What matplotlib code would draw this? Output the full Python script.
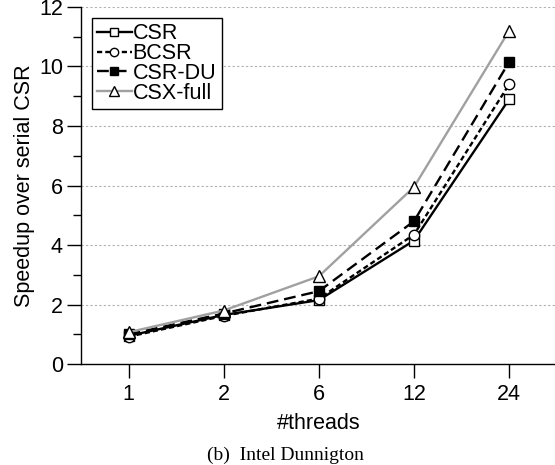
import matplotlib
matplotlib.use("Agg")
import matplotlib.pyplot as plt
import numpy as np

plt.rcParams['font.family'] = ['Liberation Sans', 'DejaVu Sans']

# thread counts (categorical x axis) and speedups
threads = ['1', '2', '6', '12', '24']
csr = [0.95, 1.65, 2.15, 4.15, 8.9]
bcsr = [0.92, 1.62, 2.2, 4.35, 9.4]
csr_du = [1.0, 1.7, 2.45, 4.8, 10.15]
csx_full = [1.07, 1.8, 2.95, 5.95, 11.2]

fig = plt.figure(figsize=(5.55, 4.65), dpi=100)
ax = fig.add_axes([0.146, 0.217, 0.857, 0.768])

x = np.arange(len(threads))
ms = 7.5
lw = 1.7
ax.plot(x, csr, color='black', lw=lw, ls='-', marker='s', ms=ms,
        mfc='white', mec='black', mew=1.0, label='CSR', zorder=3)
ax.plot(x, bcsr, color='black', lw=lw, ls=(0, (2.2, 1.3)), marker='o', ms=ms,
        mfc='white', mec='black', mew=1.0, label='BCSR', zorder=4)
ax.plot(x, csr_du, color='black', lw=lw, ls=(0, (5, 2.5)), marker='s', ms=ms,
        mfc='black', mec='black', mew=1.0, label='CSR-DU', zorder=5)
ax.plot(x, csx_full, color='#a0a0a0', lw=lw, ls='-', marker='^', ms=ms + 1,
        mfc='white', mec='black', mew=1.0, label='CSX-full', zorder=6)

ax.set_xlim(-0.5, 4.5)
ax.set_ylim(0, 12)
ax.set_xticks(x)
ax.set_xticklabels(threads)
ax.set_yticks(np.arange(0, 13, 2))
ax.set_yticks(np.arange(1, 12, 2), minor=True)

ax.tick_params(axis='both', which='major', direction='out', length=10,
               width=1, labelsize=15.5, pad=3)
ax.tick_params(axis='y', which='minor', direction='out', length=6, width=1)
ax.tick_params(axis='x', which='major', pad=4)

for s in ['top', 'right']:
    ax.spines[s].set_visible(False)
ax.spines['left'].set_linewidth(1)
ax.spines['bottom'].set_linewidth(1)

ax.yaxis.grid(True, which='major', color='#b0b0b0', ls=(0, (2, 2)), lw=0.8)
ax.set_axisbelow(True)

ax.set_xlabel('#threads', fontsize=15.5, labelpad=6)
ax.set_ylabel('Speedup over serial CSR', fontsize=15.5, labelpad=3)

leg = ax.legend(loc='upper left', fontsize=15.5, handlelength=1.6,
                handletextpad=0.05, borderpad=0.25, labelspacing=-0.05,
                borderaxespad=0.5, fancybox=False, framealpha=1,
                edgecolor='black', markerscale=0.8)
leg.get_frame().set_linewidth(1.0)

fig.text(0.514, 0.021, '(b)  Intel Dunnigton', family=['Liberation Serif'],
         fontsize=14, ha='center', va='center')

fig.savefig('out.png', dpi=100)
